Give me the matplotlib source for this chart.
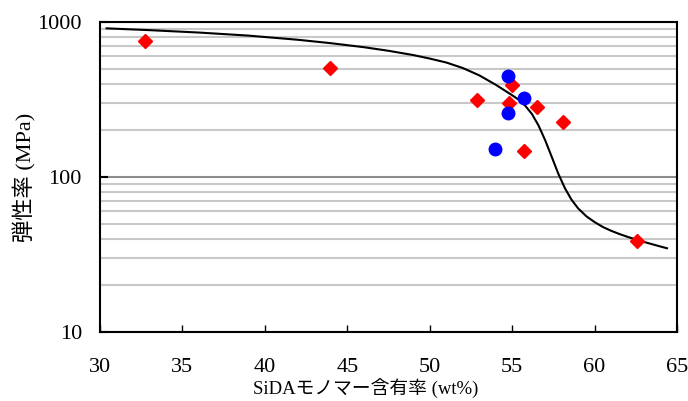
import matplotlib
matplotlib.use("Agg")
import matplotlib.pyplot as plt
from matplotlib.ticker import LogLocator, FixedLocator, NullFormatter

# Data
red_x = [32.73, 43.96, 52.88, 54.82, 55.0, 56.52, 58.09, 55.73, 62.59]
red_y = [754, 505, 314, 301, 393, 283, 226, 147, 38.6]
blue_x = [54.74, 55.71, 54.74, 53.93]
blue_y = [449, 322, 260, 151]
curve_x = [30.4, 33.0, 36.0, 39.0, 42.0, 44.0, 46.0, 47.5, 49.0, 50.0, 51.0,
           52.0, 53.0, 54.0, 55.0, 55.4, 55.8, 56.2, 56.6, 57.0, 57.4, 57.8,
           58.2, 58.6, 59.0, 59.5, 60.0, 60.5, 61.0, 61.5, 62.0, 63.0, 64.0, 64.39]
curve_y = [910, 886, 855, 817, 768, 730, 688, 652, 612, 581, 548,
           505, 453, 394, 337, 315, 288, 255, 215, 173, 135, 105,
           84.7, 71.4, 62.8, 55.8, 51.2, 47.6, 45.0, 42.9, 41.1, 38.1, 35.6, 34.7]
x_ticks = [30, 35, 40, 45, 50, 55, 60, 65]
y_ticks = [10, 100, 1000]
x_label = "SiDAモノマー含有率 (wt%)"
y_label = "弾性率 (MPa)"

fams = ['Liberation Serif', 'Noto Sans CJK JP']
plt.rcParams['font.family'] = fams

fig = plt.figure(figsize=(6.88, 4.01), dpi=100)
ax = fig.add_axes([100/688, 69/401, 577/688, 310/401])
ax.set_yscale('log')
ax.set_xlim(30, 65)
ax.set_ylim(10, 1000)

ax.yaxis.set_major_locator(FixedLocator(y_ticks))
ax.yaxis.set_minor_locator(LogLocator(base=10, subs=range(2, 10)))
ax.yaxis.set_minor_formatter(NullFormatter())
ax.set_yticks(y_ticks)
ax.set_yticklabels([str(v) for v in y_ticks])
ax.set_xticks(x_ticks)
ax.set_xticklabels([str(v) for v in x_ticks])

ax.grid(True, which='major', axis='y', color='#8c8c8c', lw=1.5, zorder=0)
ax.grid(True, which='minor', axis='y', color='#c8c8c8', lw=1.5, zorder=0)
ax.set_axisbelow(True)

ax.tick_params(axis='x', direction='in', length=5, width=1, pad=19, labelsize=16)
ax.tick_params(axis='y', which='major', direction='in', length=6, width=1.5, pad=13, labelsize=16)
ax.tick_params(axis='y', which='minor', length=0)
for s in ax.spines.values():
    s.set_linewidth(1.5)
    s.set_color('black')

ax.plot(curve_x, curve_y, color='black', lw=1.5, zorder=3,
        solid_joinstyle='round', antialiased=True)
ax.plot(red_x, red_y, linestyle='none', marker='D', color='#ff0000', markersize=7.5, zorder=4)
ax.plot(blue_x, blue_y, linestyle='none', marker='o', color='#0000ff', markersize=9, zorder=4)

ax.set_xlabel(x_label, fontsize=13.5, labelpad=1)
ax.xaxis.label.set_x((366 - 100) / 577)
ax.set_ylabel(y_label, fontsize=16, labelpad=1)

fig.savefig('out.png', dpi=100)
